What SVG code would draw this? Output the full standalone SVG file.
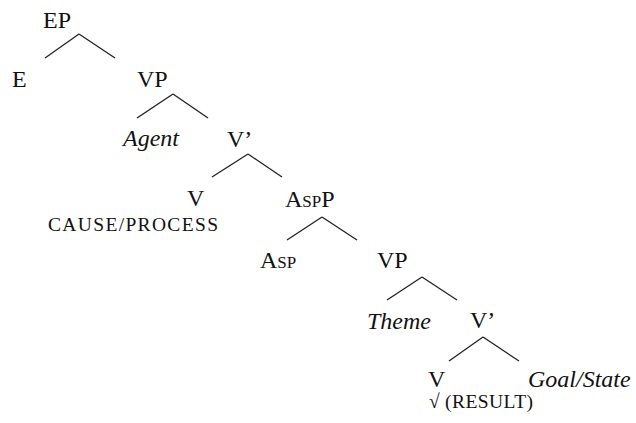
<svg xmlns="http://www.w3.org/2000/svg" width="636" height="423" viewBox="0 0 636 423">
<style>
text{font-family:"Liberation Serif","Times New Roman",serif;font-size:24px;fill:#111}
.it{font-style:italic}
.sc{font-size:19.5px}
.ss{font-size:17px}
line{stroke:#222;stroke-width:1.3}
</style>
<rect width="636" height="423" fill="#fff"/>
<g id="connectors">
<line x1="79" y1="34" x2="45" y2="58"/><line x1="79" y1="34" x2="115" y2="58"/>
<line x1="173" y1="94" x2="137" y2="118"/><line x1="173" y1="94" x2="208" y2="118"/>
<line x1="248" y1="154" x2="212" y2="177"/><line x1="248" y1="154" x2="282" y2="177"/>
<line x1="322" y1="217" x2="287" y2="240"/><line x1="322" y1="217" x2="357" y2="240"/>
<line x1="422" y1="277" x2="387" y2="300"/><line x1="422" y1="277" x2="457" y2="300"/>
<line x1="483" y1="337" x2="449" y2="361"/><line x1="483" y1="337" x2="519" y2="361"/>
</g>
<g id="EP"><text x="43" y="28">EP</text></g>
<g id="E"><text x="12" y="87">E</text></g>
<g id="VP1"><text x="137" y="87">VP</text></g>
<g id="Agent"><text class="it" x="123" y="146">Agent</text></g>
<g id="Vbar1"><text x="227" y="147">V’</text></g>
<g id="V1"><text x="187" y="206">V</text><text class="sc" x="48" y="231" textLength="170">CAUSE/PROCESS</text></g>
<g id="AspP"><text x="285" y="207">A<tspan class="ss">SP</tspan>P</text></g>
<g id="Asp"><text x="260" y="268">A<tspan class="ss">SP</tspan></text></g>
<g id="VP2"><text x="377" y="268">VP</text></g>
<g id="Theme"><text class="it" x="367" y="329">Theme</text></g>
<g id="Vbar2"><text x="470" y="328">V’</text></g>
<g id="V2"><text x="428" y="387">V</text><text class="sc" x="429" y="408">√</text><text class="sc" x="445" y="408" textLength="88">(RESULT)</text></g>
<g id="Goal"><text class="it" x="528" y="387">Goal/State</text></g>
</svg>
